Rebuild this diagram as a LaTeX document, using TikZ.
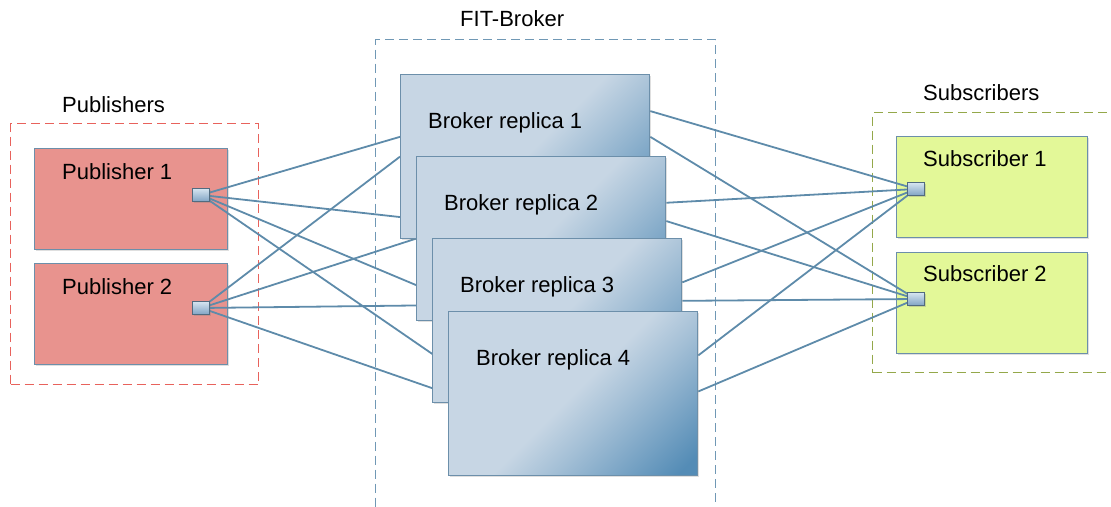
\documentclass[tikz,border=0pt]{standalone}
\usepackage{fontspec}
\setmainfont{Liberation Sans}
\usepackage{tikz}
\usetikzlibrary{calc,shadows}

\definecolor{pubfill}{RGB}{232,147,142}
\definecolor{subfill}{RGB}{227,248,152}
\definecolor{boxedge}{RGB}{108,143,170}
\definecolor{linkblue}{RGB}{94,139,170}
\definecolor{brokerlight}{RGB}{199,214,228}
\definecolor{brokerdark}{RGB}{84,140,182}
\definecolor{portlight}{RGB}{214,228,240}
\definecolor{portdark}{RGB}{128,164,196}
\definecolor{pubdash}{RGB}{232,98,92}
\definecolor{fitdash}{RGB}{112,152,181}
\definecolor{subdash}{RGB}{148,168,74}

% light face, darkening towards the lower right corner
\pgfdeclarehorizontalshading{brokerfade}{100bp}{color(0bp)=(brokerlight); color(50bp)=(brokerlight); color(60bp)=(brokerlight!70!brokerdark); color(82bp)=(brokerdark); color(100bp)=(brokerdark)}

\pgfdeclarelayer{back}
\pgfdeclarelayer{links}
\pgfsetlayers{back,links,main}

\def\drawlink{\draw[color=linkblue, line width=1.8pt]}
\def\portnode{\node[draw=boxedge!75!black, line width=1.1pt, top color=portlight, bottom color=portdark, minimum width=17, minimum height=13, drop shadow={shadow xshift=1pt, shadow yshift=-1pt, opacity=.3}]}

\begin{document}
\begin{tikzpicture}[x=1pt,y=-1pt,inner sep=0pt,
  every node/.style={font=\fontsize{22}{26}\selectfont},
  frame/.style={draw, line width=1.4pt, dash pattern=on 9pt off 5pt, anchor=north west},
  boxtext/.style={anchor=base west},
  shadowed/.style={drop shadow={shadow xshift=1.5pt, shadow yshift=-1.5pt, opacity=.25}},
  pubbox/.style={draw=boxedge, line width=1.3pt, fill=pubfill, anchor=north west, minimum width=193, minimum height=101, shadowed},
  subbox/.style={draw=boxedge, line width=1.3pt, fill=subfill, anchor=north west, minimum width=191, minimum height=101, shadowed},
  brokerbox/.style={draw=boxedge, line width=1.3pt, shading=brokerfade, shading angle=-45, anchor=north west, minimum width=249, minimum height=164, shadowed}]
\useasboundingbox (0,0) rectangle (1111,506);

\begin{pgfonlayer}{back}
% ---------- dashed frames round the three groups
\node[frame, draw=pubdash, minimum width=248, minimum height=261] (pubs) at (10,123) {};
\node[boxtext] (pubs_label) at ($ (pubs.north west) + (52,-11) $) {Publishers};
\node[frame, draw=fitdash, minimum width=340, minimum height=500] (fit) at (375,39) {};
\node[boxtext] (fit_label) at ($ (fit.north west) + (85,-12) $) {FIT-Broker};
\node[frame, draw=subdash, minimum width=260, minimum height=260] (subs) at (872,112) {};
\node[boxtext] (subs_label) at ($ (subs.north west) + (51,-12) $) {Subscribers};

% ---------- publishers
\node[pubbox] (pub1) at (34,148) {};
\node[boxtext] (pub1_text) at ($ (pub1.north west) + (28,31) $) {Publisher 1};
\node[pubbox] (pub2) at (34,263) {};
\node[boxtext] (pub2_text) at ($ (pub2.north west) + (28,31) $) {Publisher 2};

% ---------- subscribers
\node[subbox] (sub1) at (896,136) {};
\node[boxtext] (sub1_text) at ($ (sub1.north west) + (27,30) $) {Subscriber 1};
\node[subbox] (sub2) at (896,252) {};
\node[boxtext] (sub2_text) at ($ (sub2.north west) + (27,29) $) {Subscriber 2};
\end{pgfonlayer}

% ports sit on the inner edge of each client box
\portnode (pub1_port) at ($ (pub1.north east) + (-27,47) $) {};
\portnode (pub2_port) at ($ (pub2.north east) + (-27,45) $) {};
\portnode (sub1_port) at ($ (sub1.north west) + (20,53) $) {};
\portnode (sub2_port) at ($ (sub2.north west) + (20,47) $) {};

% ---------- the stack of broker replicas, each one a bit lower and to the right
\node[brokerbox] (broker1) at (400,74) {};
\node[boxtext] (broker1_text) at ($ (broker1.north west) + (28,54) $) {Broker replica 1};
\node[brokerbox] (broker2) at (416,156) {};
\node[boxtext] (broker2_text) at ($ (broker2.north west) + (28,54) $) {Broker replica 2};
\node[brokerbox] (broker3) at (432,238) {};
\node[boxtext] (broker3_text) at ($ (broker3.north west) + (28,54) $) {Broker replica 3};
\node[brokerbox] (broker4) at (448,311) {};
\node[boxtext] (broker4_text) at ($ (broker4.north west) + (28,54) $) {Broker replica 4};

\begin{pgfonlayer}{links}
% publishers -> every replica (hidden behind the stack)
\drawlink (pub1_port.center) -- (broker1.171);
\drawlink (pub1_port.center) -- (broker2.171);
\drawlink (pub1_port.center) -- (broker3.167);
\drawlink (pub1_port.center) -- (broker4.167);
\drawlink (pub2_port.center) -- (broker1.180);
\drawlink (pub2_port.center) -- (broker2.180);
\drawlink (pub2_port.center) -- (broker3.173);
\drawlink (pub2_port.center) -- (broker4.180);

% every replica -> subscribers
\drawlink (broker1.20) -- (sub1_port.center);
\drawlink (broker2.16) -- (sub1_port.center);
\drawlink (broker3.17) -- (sub1_port.center);
\drawlink (broker4.17) -- (sub1_port.center);
\drawlink (broker1.9) -- (sub2_port.center);
\drawlink (broker2.8) -- (sub2_port.center);
\drawlink (broker3.9.6) -- (sub2_port.center);
\drawlink (broker4.1.4) -- (sub2_port.center);
\end{pgfonlayer}
\end{tikzpicture}
\end{document}
